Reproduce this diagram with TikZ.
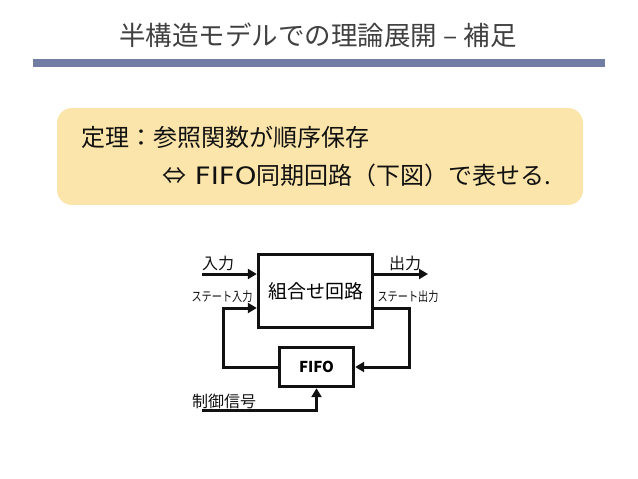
\documentclass[tikz,border=0pt]{standalone}
\usepackage{fontspec}
\setmainfont{Noto Sans CJK JP}
\newfontfamily\latinwide[FakeStretch=1.15]{DejaVu Sans}
\newfontfamily\narrowjp[FakeStretch=0.78]{Noto Sans CJK JP}
\usetikzlibrary{arrows.meta,calc}
\definecolor{ink}{HTML}{111111}
\definecolor{grey}{HTML}{404040}
\definecolor{slate}{HTML}{717DA3}
\definecolor{cream}{HTML}{FBE5AA}
\tikzset{blk/.style={draw=ink,line width=3.4pt,fill=white,align=center},
sig/.style={-{Triangle[length=9pt,width=10pt]},line width=3pt,ink},
lab/.style={text=ink,inner sep=0pt}}
\begin{document}
\begin{tikzpicture}[x=1pt,y=-1pt]
\useasboundingbox (0,0) rectangle (638,479);
\node[text=grey,font=\fontsize{26.5}{30}\selectfont] (title) at (318,35) {半構造モデルでの理論展開 – 補足};
\fill[slate] (33,59) rectangle (605,67);
\fill[cream,rounded corners=15pt] (57,108) rectangle (583,205);
\node[lab,anchor=west,font=\fontsize{24}{28}\selectfont] (thm) at (81,137) {定理：参照関数が順序保存};
\node[lab,anchor=west,font=\fontsize{24}{28}\selectfont] (eqv) at (162,175) {⇔{\latinwide\ FIFO}同期回路（下図）で表せる.};
% circuit
\node[blk,minimum width=114pt,minimum height=73pt,font=\fontsize{19}{21}\selectfont] (comb) at (315.5,291) {組合せ回路};
\node[blk,minimum width=74pt,minimum height=39pt,font=\fontsize{15}{17}\selectfont\bfseries] (fifo) at (316.5,367) {FIFO};
\coordinate (inS) at (202,274);
\coordinate (outE) at (428,274);
\coordinate (lk) at (223,308);
\coordinate (rk) at (409,308);
\coordinate (ctl) at (202,410);
\draw[sig] (inS) -- (comb.west |- inS);
\draw[sig] (comb.east |- outE) -- (outE);
\draw[sig] (fifo.west) -| (lk) -- (comb.west |- lk);
\draw[sig] (comb.east |- rk) -- (rk) |- (fifo.east);
\draw[sig] (ctl) -| (fifo.south);
\node[lab,font=\fontsize{16}{18}\selectfont] (inL) at (218,263) {入力};
\node[lab,font=\fontsize{16}{18}\selectfont] (outL) at (405,263) {出力};
\node[lab,font=\narrowjp\fontsize{13}{15}\selectfont] (sinL) at (222,297) {ステート入力};
\node[lab,font=\narrowjp\fontsize{13}{15}\selectfont] (soutL) at (408,297) {ステート出力};
\node[lab,font=\fontsize{16}{18}\selectfont] (ctlL) at (224,401) {制御信号};
\end{tikzpicture}
\end{document}
